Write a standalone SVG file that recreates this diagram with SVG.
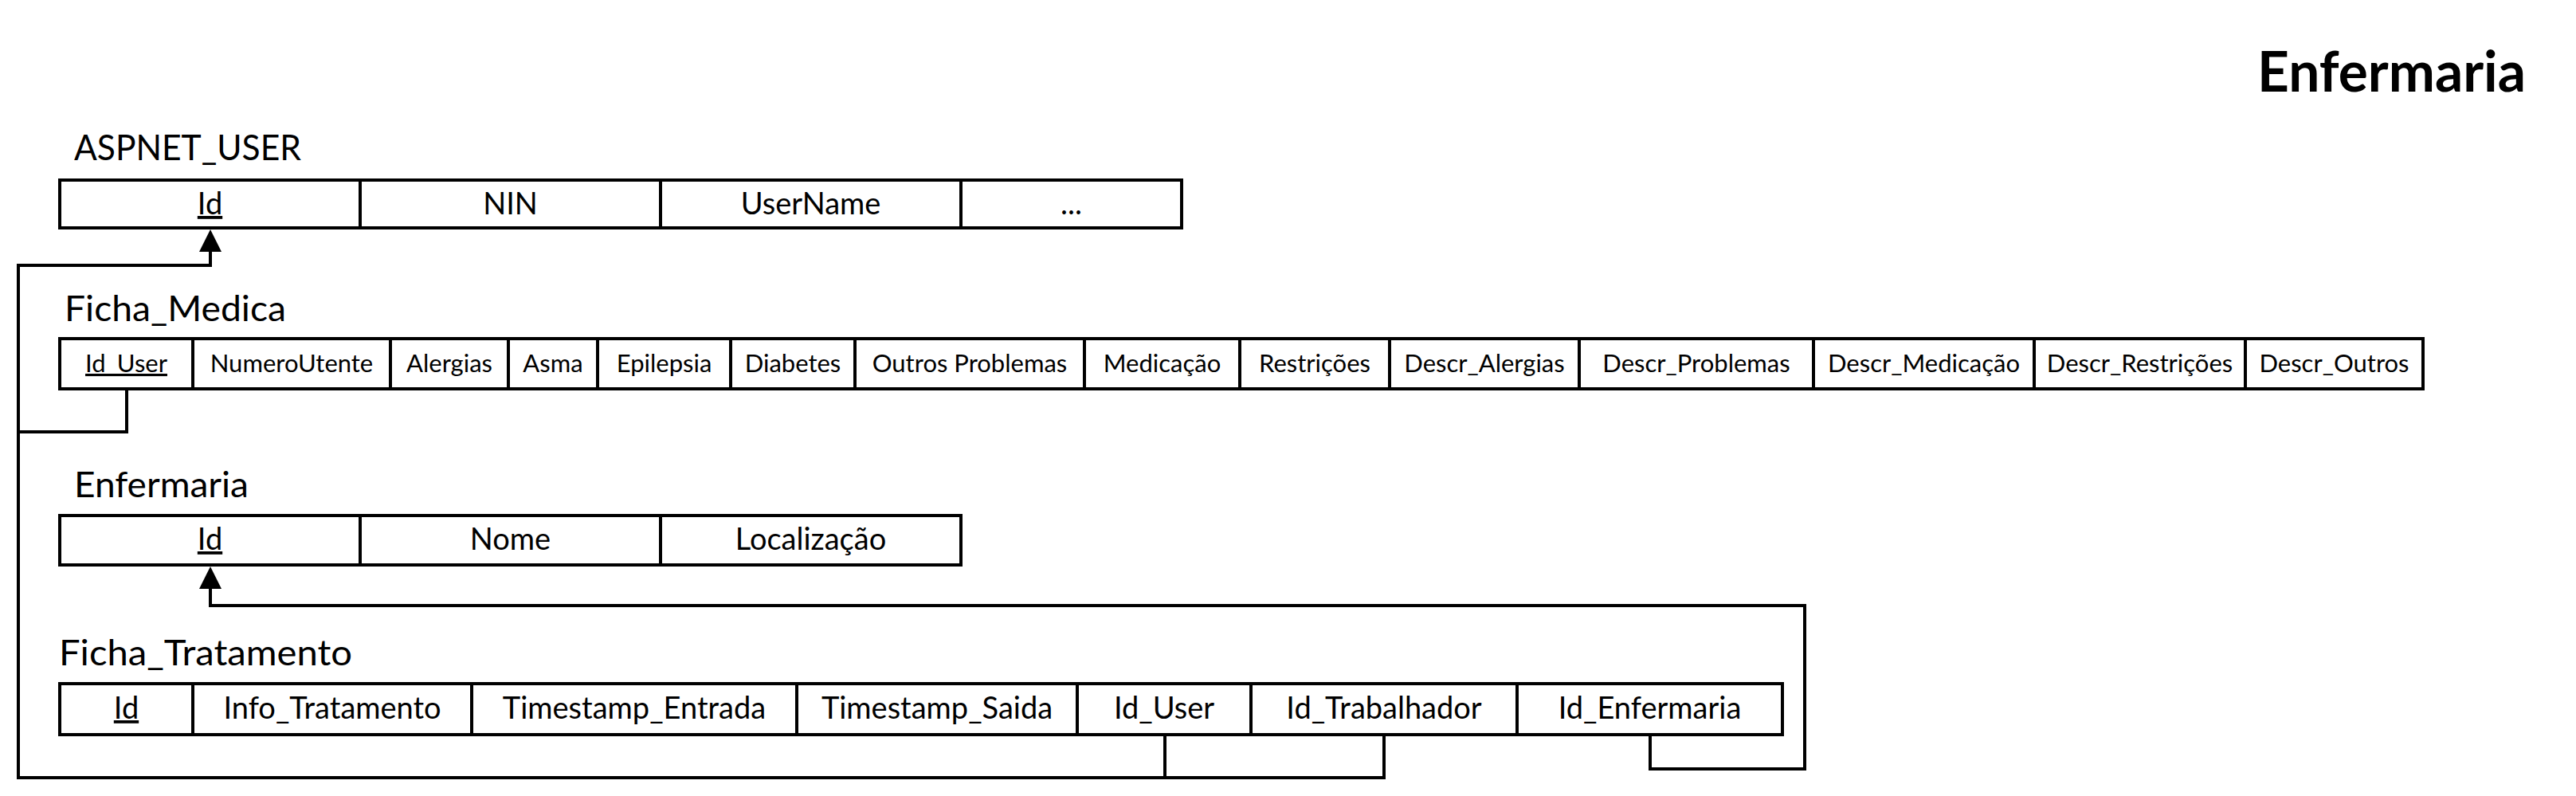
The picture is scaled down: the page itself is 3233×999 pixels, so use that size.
<svg xmlns="http://www.w3.org/2000/svg" width="3233" height="999" viewBox="0 0 3233 999">
<style>
.bg{fill:#fff}
.tbl{fill:#fff;stroke:#000;stroke-width:4}
.div{stroke:#000;stroke-width:4}
.ttl{font-family:Lato,"Open Sans",sans-serif;font-size:44px;fill:#000}
.cell{font-family:Lato,"Open Sans",sans-serif;font-size:38px;fill:#000;text-anchor:middle}
.cs{font-size:31px}
.pk{text-decoration:underline}
.big{font-family:Lato,"Open Sans",sans-serif;font-weight:bold;font-size:71px;fill:#000}
.con{fill:none;stroke:#000;stroke-width:4;stroke-linejoin:miter}
.ah{fill:#000}
</style>
<rect class="bg" x="0" y="0" width="3233" height="999"/>
<text class="big" x="2833" y="115" textLength="337" lengthAdjust="spacingAndGlyphs">Enfermaria</text>

<g id="connectors">
<path class="con" d="M159,488 V542 H23"/>
<path class="con" d="M264,313 V333 H23 V976 H1737 V922"/>
<path class="con" d="M1462,922 V976"/>
<polygon class="ah" points="264,288 250,316 278,316"/>
<path class="con" d="M2071,922 V965 H2265 V760 H264 V736"/>
<polygon class="ah" points="264,711 250,739 278,739"/>
</g>

<g id="aspnet_user">
<text class="ttl" x="93" y="201" textLength="285" lengthAdjust="spacingAndGlyphs">ASPNET_USER</text>
<rect class="tbl" x="75" y="226" width="1408" height="60"/>
<path class="div" d="M452,226V286M829,226V286M1206,226V286"/>
<text class="cell pk" x="263.5" y="269">Id</text>
<text class="cell" x="640.5" y="269">NIN</text>
<text class="cell" x="1017.5" y="269">UserName</text>
<text class="cell" x="1344.5" y="269">...</text>
</g>

<g id="ficha_medica">
<text class="ttl" x="81" y="403" textLength="278" lengthAdjust="spacingAndGlyphs">Ficha_Medica</text>
<rect class="tbl" x="75" y="425" width="2966" height="63"/>
<path class="div" d="M242,425V488M490,425V488M638,425V488M750,425V488M917,425V488M1073,425V488M1361,425V488M1556,425V488M1744,425V488M1982,425V488M2276,425V488M2553,425V488M2818,425V488"/>
<text class="cell cs pk" x="158.5" y="467">Id_User</text>
<text class="cell cs" x="366" y="467">NumeroUtente</text>
<text class="cell cs" x="564" y="467">Alergias</text>
<text class="cell cs" x="694" y="467">Asma</text>
<text class="cell cs" x="833.5" y="467">Epilepsia</text>
<text class="cell cs" x="995" y="467">Diabetes</text>
<text class="cell cs" x="1217" y="467">Outros Problemas</text>
<text class="cell cs" x="1458.5" y="467">Medicação</text>
<text class="cell cs" x="1650" y="467">Restrições</text>
<text class="cell cs" x="1863" y="467">Descr_Alergias</text>
<text class="cell cs" x="2129" y="467">Descr_Problemas</text>
<text class="cell cs" x="2414.5" y="467">Descr_Medicação</text>
<text class="cell cs" x="2685.5" y="467">Descr_Restrições</text>
<text class="cell cs" x="2929.5" y="467">Descr_Outros</text>
</g>

<g id="enfermaria">
<text class="ttl" x="93" y="624" textLength="219" lengthAdjust="spacingAndGlyphs">Enfermaria</text>
<rect class="tbl" x="75" y="647" width="1131" height="62"/>
<path class="div" d="M452,647V709M829,647V709"/>
<text class="cell pk" x="263.5" y="690">Id</text>
<text class="cell" x="640.5" y="690">Nome</text>
<text class="cell" x="1017.5" y="690">Localização</text>
</g>

<g id="ficha_tratamento">
<text class="ttl" x="74" y="835" textLength="368" lengthAdjust="spacingAndGlyphs">Ficha_Tratamento</text>
<rect class="tbl" x="75" y="858" width="2162" height="64"/>
<path class="div" d="M242,858V922M592,858V922M1000,858V922M1352,858V922M1570,858V922M1904,858V922"/>
<text class="cell pk" x="158.5" y="902">Id</text>
<text class="cell" x="417" y="902">Info_Tratamento</text>
<text class="cell" x="796" y="902">Timestamp_Entrada</text>
<text class="cell" x="1176" y="902">Timestamp_Saida</text>
<text class="cell" x="1461" y="902">Id_User</text>
<text class="cell" x="1737" y="902">Id_Trabalhador</text>
<text class="cell" x="2070.5" y="902">Id_Enfermaria</text>
</g>
</svg>
